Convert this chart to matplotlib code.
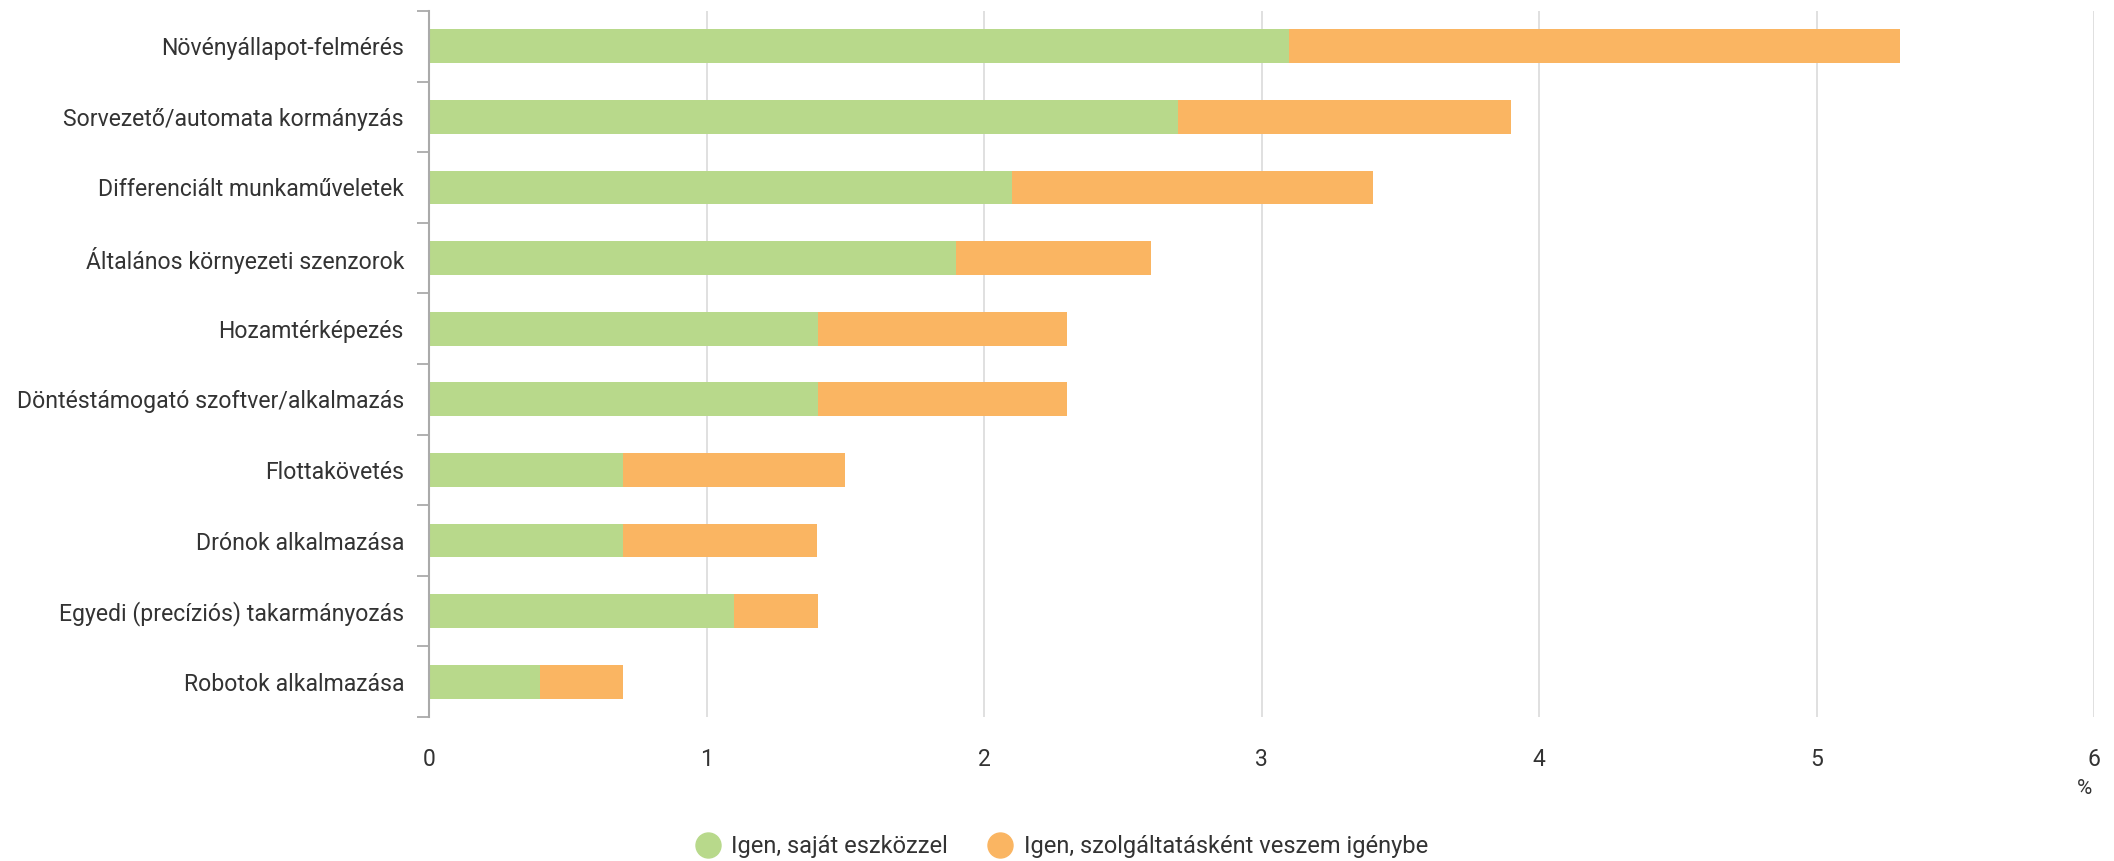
import matplotlib
matplotlib.use("Agg")
import matplotlib.pyplot as plt
from matplotlib.lines import Line2D
import numpy as np

plt.rcParams['font.family'] = ['Roboto', 'DejaVu Sans']

categories = [
    "Növényállapot-felmérés",
    "Sorvezető/automata kormányzás",
    "Differenciált munkaműveletek",
    "Általános környezeti szenzorok",
    "Hozamtérképezés",
    "Döntéstámogató szoftver/alkalmazás",
    "Flottakövetés",
    "Drónok alkalmazása",
    "Egyedi (precíziós) takarmányozás",
    "Robotok alkalmazása",
]
own_equipment = [3.1, 2.7, 2.1, 1.9, 1.4, 1.4, 0.7, 0.7, 1.1, 0.4]
as_service = [2.2, 1.2, 1.3, 0.7, 0.9, 0.9, 0.8, 0.7, 0.3, 0.3]
series_names = ["Igen, saját eszközzel", "Igen, szolgáltatásként veszem igénybe"]
x_ticks = [0, 1, 2, 3, 4, 5, 6]
unit_label = "%"

green = "#b8d98b"
orange = "#fab562"
text_color = "#333333"

W, H = 2114, 861
fig = plt.figure(figsize=(W / 100, H / 100), dpi=100)
ax = fig.add_axes([429 / W, 1 - 717 / H, (2094 - 429) / W, (717 - 11) / H])

y = np.arange(len(categories))
ax.barh(y, own_equipment, height=0.48, color=green, zorder=3)
ax.barh(y, as_service, left=own_equipment, height=0.48, color=orange, zorder=3)

ax.set_ylim(len(categories) - 0.5, -0.5)
ax.set_xlim(0, 6)

ax.set_yticks(y)
ax.set_yticklabels(categories)
ax.set_yticks(np.arange(-0.5, len(categories), 1), minor=True)
ax.tick_params(axis='y', which='major', length=0, pad=18, labelsize=16.6, labelcolor=text_color)
ax.tick_params(axis='y', which='minor', length=9, width=1.3, color="#aaaaaa")

ax.set_xticks(x_ticks)
ax.tick_params(axis='x', which='major', length=0, pad=22, labelsize=16.5, labelcolor=text_color)
ax.grid(axis='x', color="#dddddd", linewidth=1.3, zorder=0)

for s in ['top', 'right', 'bottom']:
    ax.spines[s].set_visible(False)
ax.spines['left'].set_color("#aaaaaa")
ax.spines['left'].set_linewidth(1.5)
ax.spines['left'].set_zorder(4)

fig.text(2084 / W, 1 - 789 / H, unit_label, ha='center', va='center', fontsize=15, color=text_color)

handles = [
    Line2D([], [], marker='o', linestyle='none', markersize=18, markerfacecolor=green, markeredgecolor=green),
    Line2D([], [], marker='o', linestyle='none', markersize=18, markerfacecolor=orange, markeredgecolor=orange),
]
leg = fig.legend(handles, series_names, loc='center', bbox_to_anchor=(1062 / W, 1 - 847 / H),
                 ncol=2, frameon=False, fontsize=17, handletextpad=0.5, columnspacing=1.7,
                 handlelength=1.0)
for t in leg.get_texts():
    t.set_color(text_color)

fig.savefig("out.png", dpi=100)
